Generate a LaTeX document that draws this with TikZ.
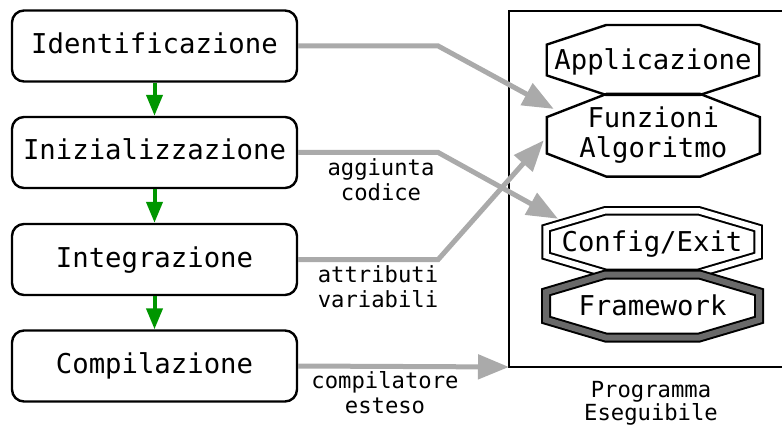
\documentclass[tikz,border=0pt]{standalone}
\usepackage{fontspec}
\setmainfont{DejaVu Sans Mono}
\usepackage{xcolor}
\usepackage{tikz}
\usetikzlibrary{calc,arrows.meta,positioning}
\definecolor{stepGreen}{RGB}{0,150,0}
\definecolor{flowGray}{RGB}{170,170,170}
\definecolor{fwGray}{RGB}{105,105,105}

% octagon drawn round a named node
\newcommand{\octo}[2][]{%
  \draw[line join=miter,#1] ($(#2.north west)!.28!(#2.north east)$)
    -- ($(#2.north west)!.72!(#2.north east)$)
    -- ($(#2.north east)!.28!(#2.south east)$)
    -- ($(#2.north east)!.72!(#2.south east)$)
    -- ($(#2.south west)!.72!(#2.south east)$)
    -- ($(#2.south west)!.28!(#2.south east)$)
    -- ($(#2.north west)!.72!(#2.south west)$)
    -- ($(#2.north west)!.28!(#2.south west)$) -- cycle;}

\begin{document}
\begin{tikzpicture}[x=1pt, y=-1pt,
  stepbox/.style={draw, line width=2.4pt, rounded corners=12pt, minimum width=285pt,
    minimum height=71pt, inner sep=2pt, font=\fontsize{27.3}{32}\selectfont,
    text height=20pt, text depth=5pt},
  octbox/.style={inner sep=0pt, outer sep=0pt, align=center,
    font=\fontsize{27.3}{30}\selectfont},
  oneline/.style={text height=20pt, text depth=1pt},
  lbl/.style={align=center, inner sep=0pt, font=\fontsize{22.2}{25}\selectfont},
  next/.style={stepGreen, line width=4pt, -{Triangle[length=21pt,width=16pt]}},
  flow/.style={flowGray, line width=5pt, -{Triangle[length=31pt,width=24pt]}}]
\path[use as bounding box, clip] (0,0) rectangle (782,425);

% executable program
\node[draw, line width=2.4pt, minimum width=284pt, minimum height=356pt,
  inner sep=0pt, outer sep=0pt] (exe) at (651,189) {};
\node[lbl, font=\fontsize{22.2}{23}\selectfont] (exelbl) at (651,403.5) {Programma\\Eseguibile};

% steps
\node[stepbox] (ident) at (154.5,46) {Identificazione};
\node[stepbox] (iniz) at (154.5,152.5) {Inizializzazione};
\node[stepbox] (integ) at (154.5,259.5) {Integrazione};
\node[stepbox] (compil) at (154.5,366) {Compilazione};
\draw[next] (ident) -- (iniz);
\draw[next] (iniz) -- (integ);
\draw[next] (integ) -- (compil);

% parts of the program
\node[octbox, oneline, minimum width=212.5pt, minimum height=70pt] (app) at (653,60) {Applicazione};
\node[octbox, minimum width=213pt, minimum height=82.7pt] (fun) at (653.3,135.3) {Funzioni\\Algoritmo};
\node[octbox, oneline, minimum width=212pt, minimum height=62.5pt] (conf) at (652,242) {Config/Exit};
\node[octbox, oneline, minimum width=213pt, minimum height=63pt] (fw) at (652.5,306) {Framework};
\octo[line width=2.4pt]{app}
\octo[line width=2.4pt]{fun}
\octo[double, line width=2pt, double distance=5.5pt]{conf}
\octo[line width=10pt]{fw}
\octo[line width=6pt, fwGray]{fw}

% flows
\coordinate (funTop) at ($(fun.north west)+(7,15)$);
\coordinate (funSide) at ($(fun.west)+(-3,5)$);
\coordinate (confTop) at ($(conf.north west)+(12,8)$);
\draw[flow] (ident.east) -- ++(140,0) -- (funTop);
\draw[flow] (iniz.east) -- ++(140,0) -- (confTop);
\draw[flow] (integ.east) -- ++(140,0) -- (funSide);
\draw[flow] (compil.east) -- (exe.south west);

\node[lbl] (lblcode) at (381,180) {aggiunta\\codice};
\node[lbl] (lblattr) at (378,287) {attributi\\variabili};
\node[lbl] (lblcomp) at (385,393) {compilatore\\esteso};
\end{tikzpicture}
\end{document}
